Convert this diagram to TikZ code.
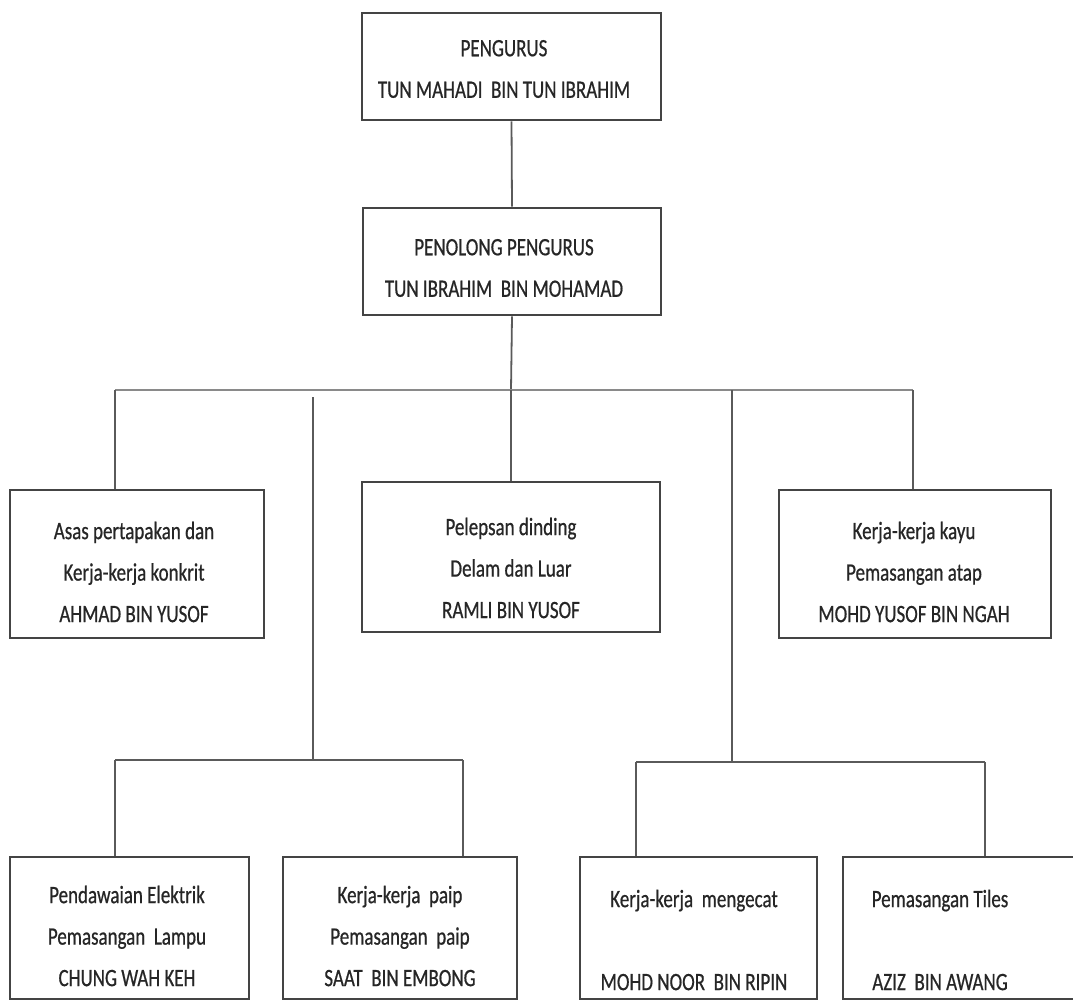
\documentclass[tikz,border=0pt]{standalone}
\usepackage{fontspec}
\setmainfont{Carlito}[FakeStretch=0.76, FakeBold=0.6]
\definecolor{boxc}{HTML}{444444}
\definecolor{linec}{HTML}{5A5A5A}
\definecolor{barc}{HTML}{8A8A8A}
\definecolor{txtc}{HTML}{262626}
\begin{document}
\begin{tikzpicture}[x=1pt,y=-1pt,
  box/.style={draw=boxc, line width=2.6pt, rectangle, inner sep=0pt},
  lbl/.style={align=center, inner sep=0pt, text=txtc, font=\fontsize{25}{41.5}\selectfont},
  conn/.style={draw=linec, line width=1.8pt},
  bar/.style={draw=barc, line width=2.2pt}]
\useasboundingbox[fill=white] (0,0) rectangle (1073,1002);

% level 0 and 1
\node[box, minimum width=299pt, minimum height=107pt] (top) at (511.5,66.5) {};
\node[lbl] (topt) at (504,69) {PENGURUS\\TUN MAHADI\ \ BIN TUN IBRAHIM};
\node[box, minimum width=298pt, minimum height=107pt] (pen) at (512,261.5) {};
\node[lbl] (pent) at (504,268) {PENOLONG PENGURUS\\TUN IBRAHIM\ \ BIN MOHAMAD};

% level 2
\node[box, minimum width=254pt, minimum height=148pt] (L) at (137,564) {};
\node[lbl] (Lt) at (134,572) {Asas pertapakan dan\\Kerja-kerja konkrit\\AHMAD BIN YUSOF};
\node[box, minimum width=298pt, minimum height=150pt] (M) at (511,557) {};
\node[lbl] (Mt) at (511,568) {Pelepsan dinding\\Delam dan Luar\\RAMLI BIN YUSOF};
\node[box, minimum width=272pt, minimum height=148pt] (R) at (915,564) {};
\node[lbl] (Rt) at (914,572) {Kerja-kerja kayu\\Pemasangan atap\\MOHD YUSOF BIN NGAH};

% level 3
\node[box, minimum width=239pt, minimum height=142pt] (B1) at (129.5,928) {};
\node[lbl] (B1t) at (127,936) {Pendawaian Elektrik\\Pemasangan\ \ Lampu\\CHUNG WAH KEH};
\node[box, minimum width=234pt, minimum height=142pt] (B2) at (400,928) {};
\node[lbl] (B2t) at (400,936) {Kerja-kerja\ \ paip\\Pemasangan\ \ paip\\SAAT\ \ BIN EMBONG};
\node[box, minimum width=237pt, minimum height=142pt] (B3) at (698.5,928) {};
\node[lbl] (B3t) at (694,940) {Kerja-kerja\ \ mengecat\\[41.5pt]MOHD NOOR\ \ BIN RIPIN};
\node[box, minimum width=240pt, minimum height=142pt] (B4) at (963,928) {};
\node[lbl] (B4t) at (940,940) {Pemasangan Tiles\\[41.5pt]AZIZ\ \ BIN AWANG};

% connectors
\draw[conn] (top.south) -- (pen.north);
\coordinate (hb) at (511,390);
\coordinate (hL) at (115,390);
\coordinate (hR) at (913,390);
\draw[conn] (pen.south) -- (hb);
\draw[bar] (hL) -- (hR);
\draw[conn] (hL) -- (hL |- L.north);
\draw[conn] (hb) -- (hb |- M.north);
\draw[conn] (hR) -- (hR |- R.north);

\coordinate (s1) at (313,397);
\coordinate (s1b) at (313,760);
\draw[conn] (s1) -- (s1b);
\coordinate (b1L) at (115,760);
\coordinate (b1R) at (463,760);
\draw[conn] (b1L) -- (b1R);
\draw[conn] (b1L) -- (b1L |- B1.north);
\draw[conn] (b1R) -- (b1R |- B2.north);

\coordinate (s2) at (732,390);
\coordinate (s2b) at (732,762);
\draw[conn] (s2) -- (s2b);
\coordinate (b2L) at (636,762);
\coordinate (b2R) at (985,762);
\draw[conn] (b2L) -- (b2R);
\draw[conn] (b2L) -- (b2L |- B3.north);
\draw[conn] (b2R) -- (b2R |- B4.north);
\end{tikzpicture}
\end{document}
